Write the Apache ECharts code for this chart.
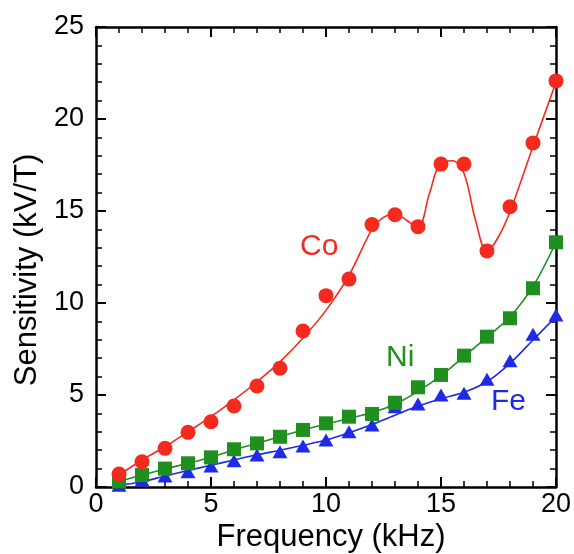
<!DOCTYPE html>
<html><head><meta charset="utf-8">
<script src="https://cdn.jsdelivr.net/npm/echarts@6/dist/echarts.min.js"></script>
<style>html,body{margin:0;padding:0;background:#fff}#c{width:574px;height:554px}</style>
</head><body><div id="c"></div>
<script>
// measured points
var freq = [1,2,3,4,5,6,7,8,9,10,11,12,13,14,15,16,17,18,19,20];
var coVals = [0.7,1.37,2.1,2.97,3.55,4.4,5.49,6.45,8.48,10.4,11.3,14.26,14.8,14.15,17.55,17.55,12.83,15.23,18.7,22.07];
var niVals = [0.3,0.65,1.0,1.29,1.61,2.05,2.37,2.73,3.1,3.46,3.82,3.97,4.58,5.42,6.09,7.14,8.17,9.17,10.8,13.3];
var feVals = [0.1,0.38,0.6,0.83,1.14,1.43,1.74,1.92,2.23,2.55,3.0,3.37,4.36,4.51,5.0,5.09,5.85,6.86,8.3,9.35];
// fitted curves
var coFitX = [1,2,3,4,5,6,7,8,9,10,11,12,12.5,13,13.5,14,14.5,15,15.5,16,16.5,17,17.5,18,19,20];
var coFitY = [0.65,1.47,2.19,3.0,3.82,4.73,5.72,6.8,8.1,9.6,11.5,14.0,14.65,14.84,14.5,14.11,15.96,17.63,17.73,17.05,14.5,12.79,13.6,14.96,18.5,22.0];
var niFitY = [0.3,0.65,0.98,1.29,1.62,2.02,2.38,2.74,3.1,3.42,3.72,4.05,4.5,5.2,6.05,7.1,8.15,9.25,10.9,13.3];
var feFitY = [0.1,0.29,0.6,0.9,1.18,1.47,1.75,2.0,2.27,2.55,2.95,3.4,3.9,4.4,4.8,5.15,5.72,6.72,7.99,9.26];
var xTicks = [0,5,10,15,20];
var yTicks = [0,5,10,15,20,25];

var RED = '#f52a1e', GREEN = '#1f8f1f', BLUE = '#1e2ae6';
var FONT = 'Liberation Sans';
function pairs(xs, ys){ return xs.map(function(x,i){return [x, ys[i]];}); }

var chart = echarts.init(document.getElementById('c'));
function axisCommon(show, margin){
  return {
    type:'value',
    axisLine:{show:true,onZero:false,lineStyle:{color:'#000',width:2.5}},
    axisTick:{show:true,inside:true,length:10,lineStyle:{color:'#000',width:2}},
    minorTick:{show:true,splitNumber:5,length:6,lineStyle:{color:'#000',width:1.5}},
    splitLine:{show:false},
    axisLabel:{show:show,color:'#000',fontSize:27,fontFamily:FONT,margin:margin}
  };
}
var xb = Object.assign(axisCommon(true,4),{min:xTicks[0],max:xTicks[xTicks.length-1],interval:5,position:'bottom'});
var xt = Object.assign(axisCommon(false,4),{min:xTicks[0],max:xTicks[xTicks.length-1],interval:5,position:'top'});
var yl = Object.assign(axisCommon(true,12),{min:yTicks[0],max:yTicks[yTicks.length-1],interval:5,position:'left'});
var yr = Object.assign(axisCommon(false,12),{min:yTicks[0],max:yTicks[yTicks.length-1],interval:5,position:'right'});

chart.setOption({
  animation:false,
  backgroundColor:'#fff',
  grid:{left:96,right:18,top:27,bottom:67,containLabel:false},
  xAxis:[xb,xt],
  yAxis:[yl,yr],
  series:[
    {type:'line',data:pairs(coFitX,coFitY),smooth:0.35,showSymbol:false,lineStyle:{color:RED,width:1.6},z:2},
    {type:'line',data:pairs(freq,niFitY),smooth:0.35,showSymbol:false,lineStyle:{color:GREEN,width:1.6},z:2},
    {type:'line',data:pairs(freq,feFitY),smooth:0.35,showSymbol:false,lineStyle:{color:BLUE,width:1.6},z:2},
    {type:'scatter',data:pairs(freq,feVals),symbol:'triangle',symbolSize:[15,13],itemStyle:{color:BLUE,opacity:1},z:3},
    {type:'scatter',data:pairs(freq,niVals),symbol:'rect',symbolSize:14,itemStyle:{color:GREEN,opacity:1},z:4},
    {type:'scatter',data:pairs(freq,coVals),symbol:'circle',symbolSize:15,itemStyle:{color:RED,opacity:1},z:5}
  ],
  graphic:[
    {type:'text',x:331,y:537,style:{text:'Frequency (kHz)',fill:'#000',fontSize:31,fontFamily:FONT,align:'center',verticalAlign:'middle'}},
    {type:'text',x:27,y:270,rotation:Math.PI/2,style:{text:'Sensitivity (kV/T)',fill:'#000',fontSize:31,fontFamily:FONT,align:'center',verticalAlign:'middle'}},
    {type:'text',left:300,top:232,style:{text:'Co',fill:RED,fontSize:30,fontFamily:FONT}},
    {type:'text',left:386,top:343,style:{text:'Ni',fill:GREEN,fontSize:30,fontFamily:FONT}},
    {type:'text',left:491,top:387,style:{text:'Fe',fill:BLUE,fontSize:30,fontFamily:FONT}}
  ]
});
</script></body></html>
